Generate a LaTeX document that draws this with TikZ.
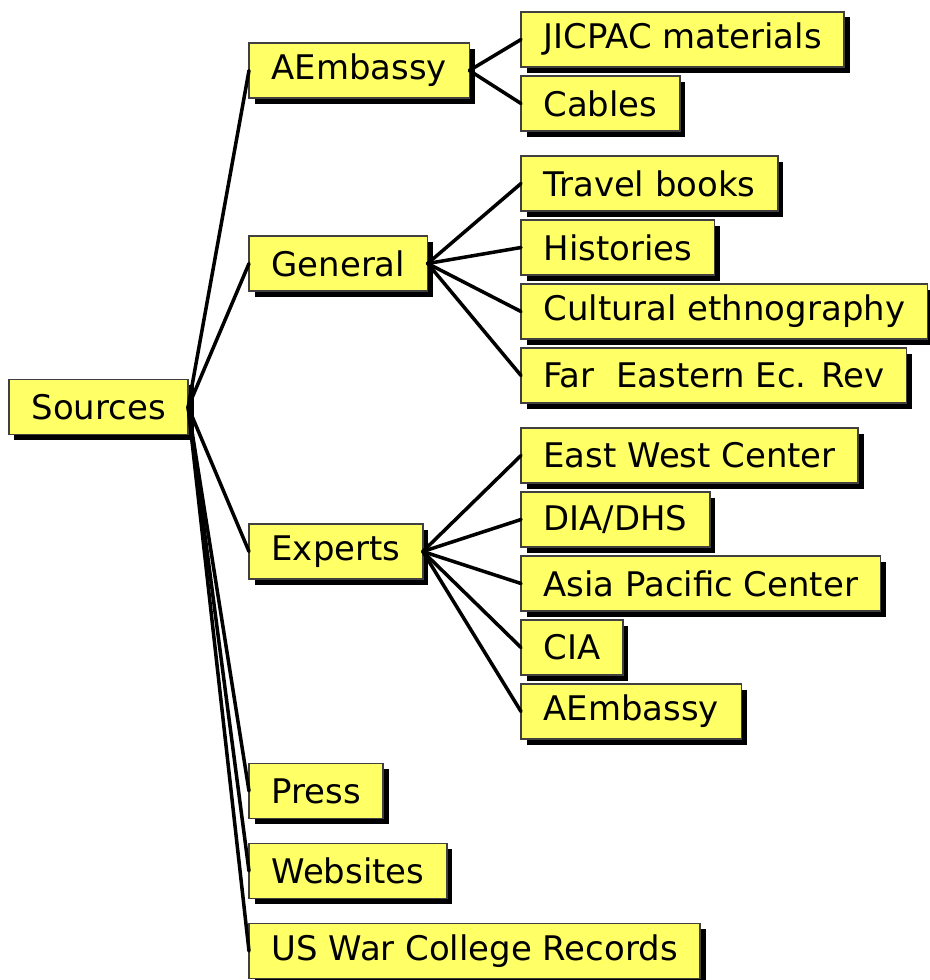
\documentclass[tikz,border=0pt]{standalone}
\usepackage{fontspec}
\setmainfont{DejaVu Sans}
\usetikzlibrary{positioning,shadows}
\definecolor{boxyellow}{RGB}{255,255,102}

\begin{document}
\begin{tikzpicture}
				\tikzset{src/.style={draw=black!75,line width=0.9pt,fill=boxyellow,anchor=west,
						minimum height=1.1cm,inner xsep=0.45cm,inner ysep=0pt,outer sep=0pt,
						font=\fontsize{19.3}{23}\selectfont,
						drop shadow={shadow xshift=0.11cm,shadow yshift=-0.11cm,fill=black,opacity=1}},
					conn/.style={line width=2pt,line cap=round}}
				\useasboundingbox (0,0) rectangle (18.58,-19.6);
				% root and first level
				\node [src] (sources) at (0.18,-8.14) {Sources};
				\node [src] (aemb) at (4.98,-1.41) {AEmbassy};
				\node [src] (general) at (4.98,-5.27) {General};
				\node [src] (experts) at (4.98,-11.03) {Experts};
				\node [src] (press) at (4.98,-15.82) {Press};
				\node [src] (websites) at (4.98,-17.42) {Websites};
				\node [src] (warcollege) at (4.98,-19.02) {US War College Records};
				% second level
				\node [src] (jicpac) at (10.42,-0.79) {JICPAC materials};
				\node [src, below =0.18cm of jicpac.south west, anchor=north west] (cables) {Cables};
				\node [src, below =0.5cm of cables.south west, anchor=north west] (travel) {Travel books};
				\node [src, below =0.18cm of travel.south west, anchor=north west] (histories) {Histories};
				\node [src, below =0.18cm of histories.south west, anchor=north west] (ethno) {Cultural ethnography};
				\node [src, below =0.18cm of ethno.south west, anchor=north west] (feer) {Far~~Eastern Ec. Rev};
				\node [src, below =0.5cm of feer.south west, anchor=north west] (eastwest) {East West Center};
				\node [src, below =0.18cm of eastwest.south west, anchor=north west] (diadhs) {DIA/DHS};
				\node [src, below =0.18cm of diadhs.south west, anchor=north west] (asiapac) {Asia Pacific Center};
				\node [src, below =0.18cm of asiapac.south west, anchor=north west] (cia) {CIA};
				\node [src, below =0.18cm of cia.south west, anchor=north west] (aembtwo) {AEmbassy};
				\path[draw,conn] (sources.east) edge (aemb.west) edge (general.west) edge (experts.west)
							edge (press.west) edge (websites.west) edge (warcollege.west)
							(aemb.east) edge (jicpac.west) edge (cables.west)
							(general.east) edge (travel.west) edge (histories.west) edge (ethno.west) edge (feer.west)
							(experts.east) edge (eastwest.west) edge (diadhs.west) edge (asiapac.west) edge (cia.west) edge (aembtwo.west);
			\end{tikzpicture}
\end{document}
